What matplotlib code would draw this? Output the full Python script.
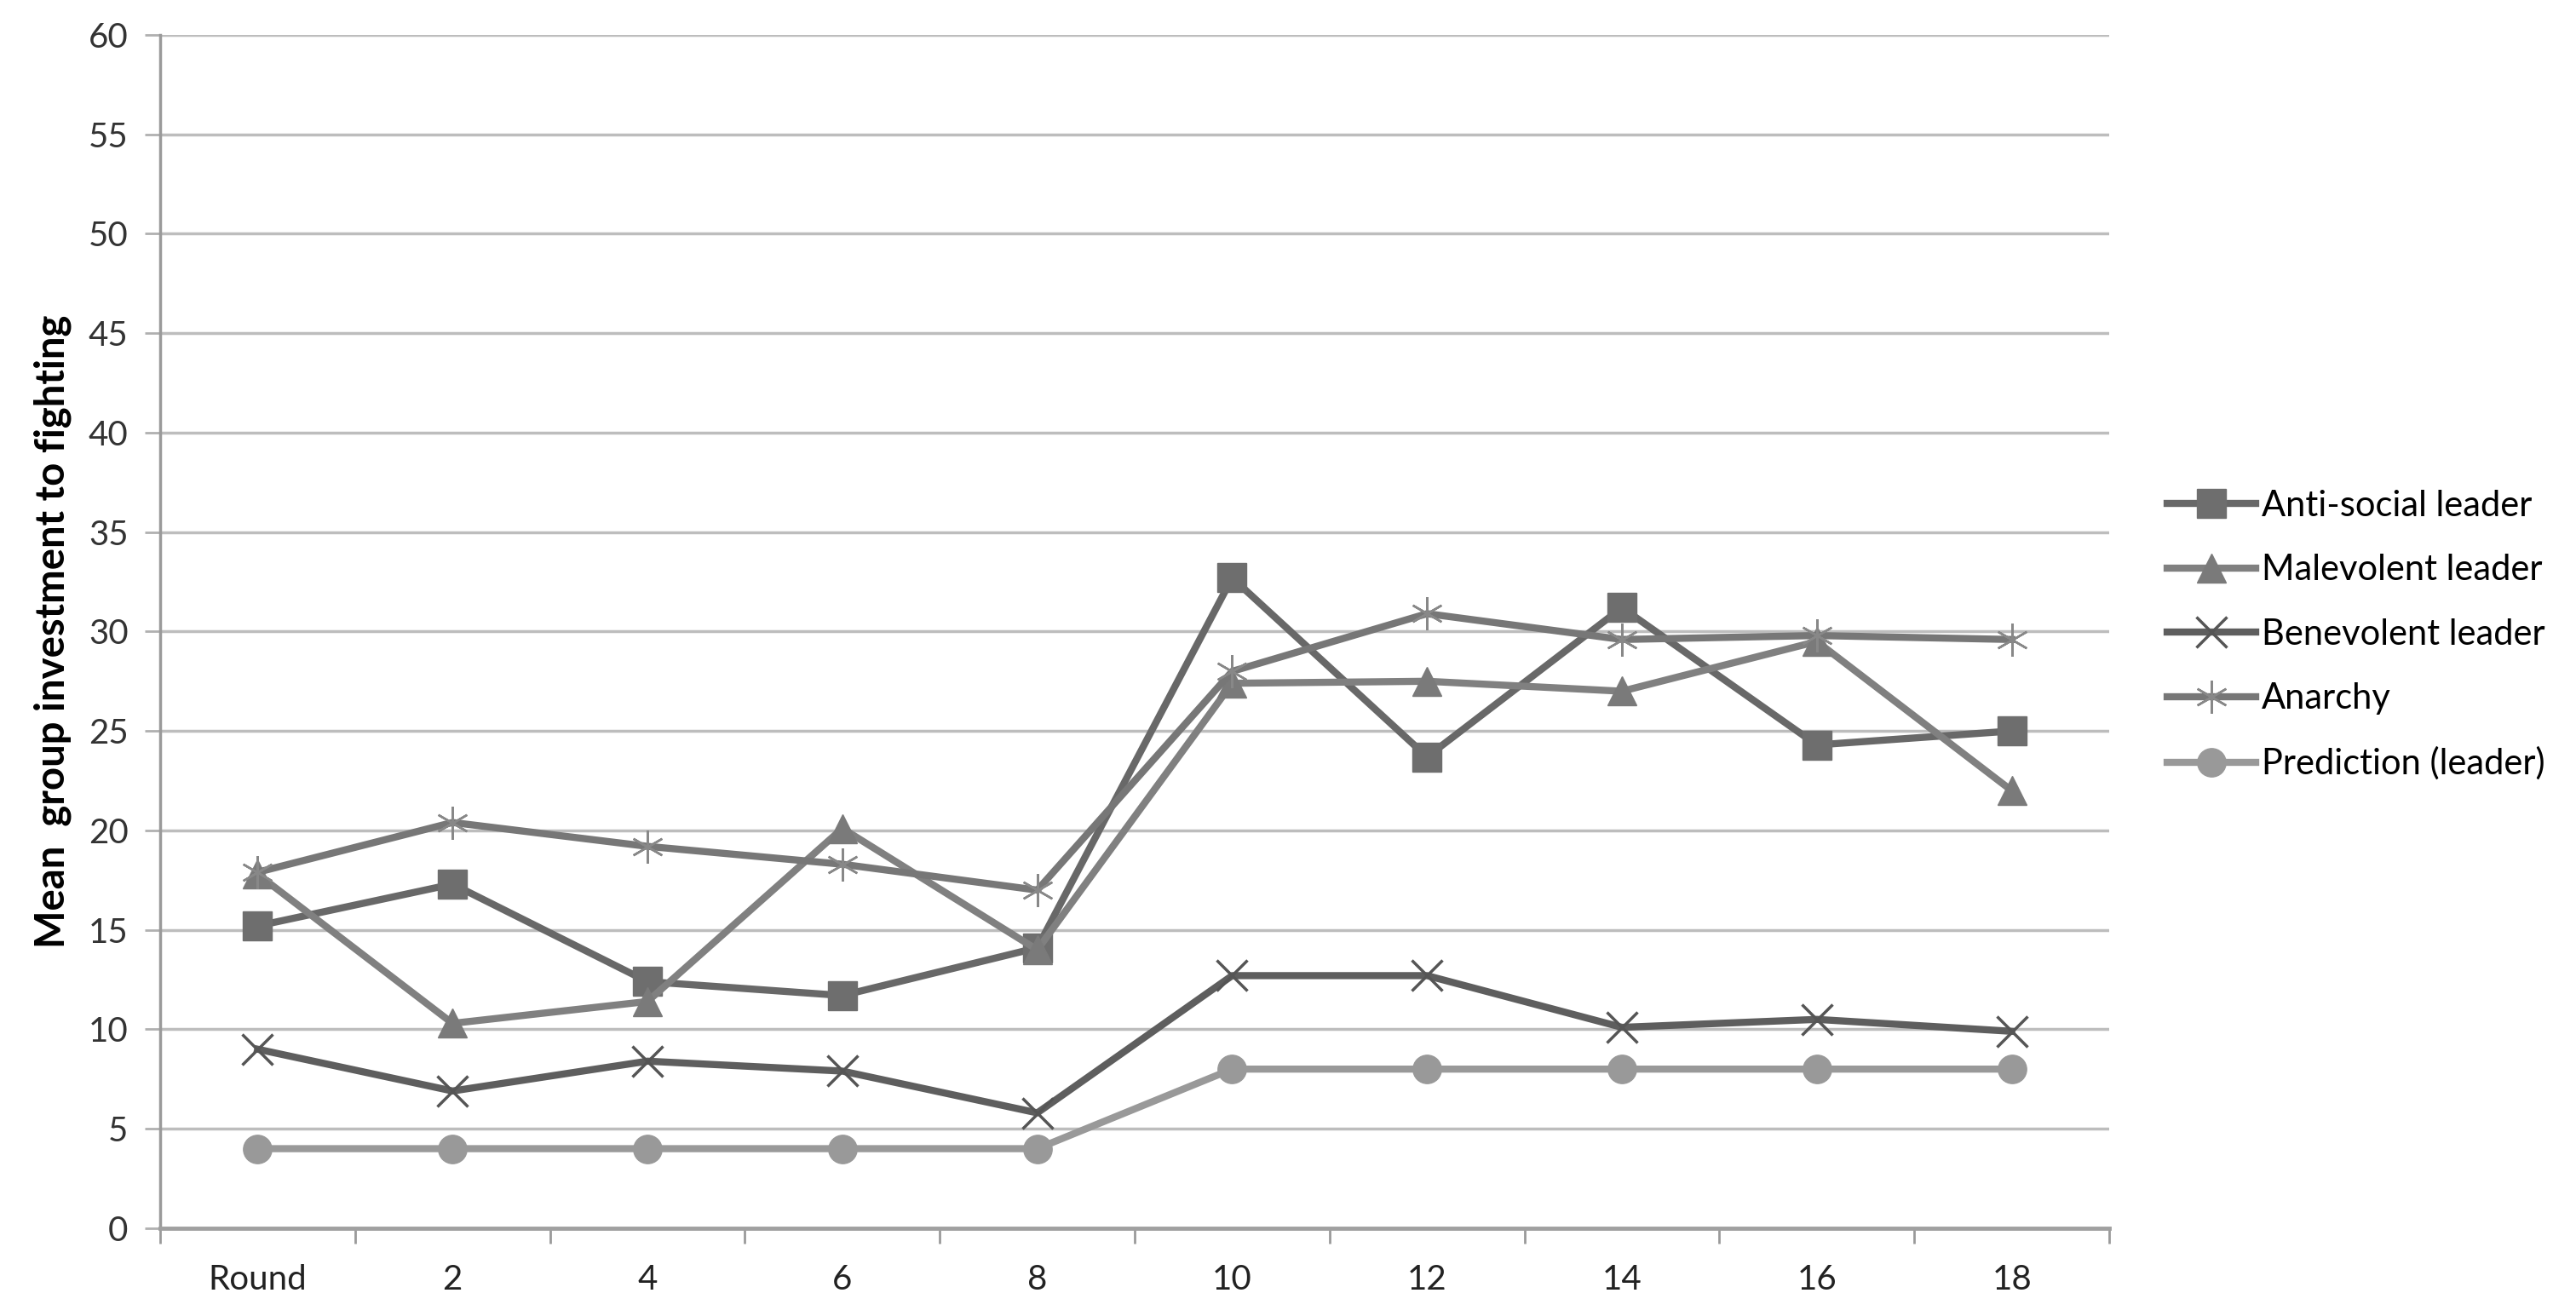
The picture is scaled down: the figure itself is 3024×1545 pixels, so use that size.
import matplotlib
matplotlib.use("Agg")
import matplotlib.pyplot as plt

plt.rcParams['font.family'] = ['Lato', 'DejaVu Sans']

rounds = ['Round', '2', '4', '6', '8', '10', '12', '14', '16', '18']
anti_social = [15.2, 17.3, 12.4, 11.7, 14.1, 32.7, 23.7, 31.2, 24.3, 25.0]
malevolent = [17.8, 10.3, 11.4, 20.1, 14.0, 27.4, 27.5, 27.0, 29.5, 22.0]
benevolent = [9.0, 6.9, 8.4, 7.9, 5.8, 12.7, 12.7, 10.1, 10.5, 9.9]
anarchy = [17.9, 20.4, 19.2, 18.3, 17.0, 28.0, 30.9, 29.6, 29.8, 29.6]
prediction = [4, 4, 4, 4, 4, 8, 8, 8, 8, 8]

fig = plt.figure(figsize=(30.24, 15.45), dpi=100)
ax = fig.add_axes([0.0622, 0.0667, 0.7566, 0.9068])

x = list(range(len(rounds)))
lw = 6
ax.plot(x, anti_social, color='#686868', lw=lw, marker='s', ms=24,
        mfc='#6e6e6e', mec='#6e6e6e', label='Anti-social leader', zorder=3)
ax.plot(x, malevolent, color='#808080', lw=lw, marker='^', ms=24,
        mfc='#7a7a7a', mec='#7a7a7a', label='Malevolent leader', zorder=3)
ax.plot(x, benevolent, color='#5e5e5e', lw=lw, marker='x', ms=26, mew=2.5,
        mec='#555555', label='Benevolent leader', zorder=3)
ax.plot(x, anarchy, color='#777777', lw=lw, marker=(6, 2, 0), ms=28, mew=1.8,
        mec='#888888', label='Anarchy', zorder=3)
ax.plot(x, prediction, color='#999999', lw=lw, marker='o', ms=24,
        mfc='#999999', mec='#999999', label='Prediction (leader)', zorder=3)

ax.set_xlim(-0.5, len(rounds) - 0.5)
ax.set_ylim(0, 60)
ax.set_yticks(range(0, 61, 5))
ax.set_xticks([i - 0.5 for i in range(len(rounds) + 1)])
ax.set_xticklabels([])
ax.set_xticks(x, rounds, minor=True)
ax.tick_params(axis='x', which='major', length=13, width=2, color='#9a9a9a')
ax.tick_params(axis='x', which='minor', length=0, pad=30, labelsize=29, labelcolor='#222222')
ax.tick_params(axis='y', length=13, width=2, color='#b0b0b0', pad=14,
               labelsize=29, labelcolor='#333333')

ax.grid(axis='y', color='#bdbdbd', lw=2.5)
ax.set_axisbelow(True)
for s in ['top', 'right']:
    ax.spines[s].set_visible(False)
ax.spines['left'].set_color('#9a9a9a')
ax.spines['left'].set_linewidth(2.5)
ax.spines['bottom'].set_color('#a0a0a0')
ax.spines['bottom'].set_linewidth(3.5)

ax.set_ylabel('Mean  group investment to fighting', fontsize=34, fontweight='bold',
              labelpad=14)

fig.legend(loc='upper left', bbox_to_anchor=(0.8413, 0.628), frameon=False,
           fontsize=30, handlelength=2.5, handletextpad=0.15, labelspacing=0.9,
           borderpad=0, borderaxespad=0, markerscale=1.0)

fig.savefig('out.png', dpi=100)
